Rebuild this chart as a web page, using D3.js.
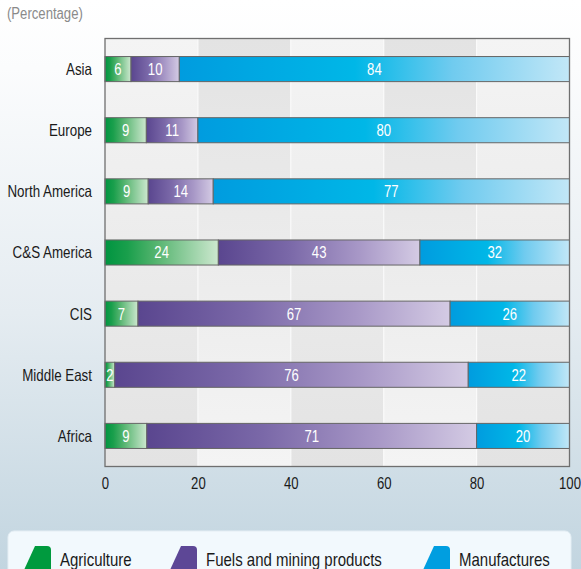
<!DOCTYPE html>
<html><head><meta charset="utf-8">
<script src="https://cdn.jsdelivr.net/npm/d3@7"></script>
<style>
html,body{margin:0;padding:0;}
svg{display:block;}
text{font-family:"Liberation Sans",Arial,sans-serif;}
</style></head>
<body>
<script>
const regions = ["Asia","Europe","North America","C&S America","CIS","Middle East","Africa"];
const agriculture = [5.6,8.9,9.3,24.4,7.1,2.1,9.0];
const fuels = [10.4,11.1,14.0,43.4,67.2,76.1,71.0];
const manufactures = [84.0,80.0,76.7,32.2,25.7,21.8,20.0];
const seriesNames = ["Agriculture","Fuels and mining products","Manufactures"];
const xTicks = [0,20,40,60,80,100];
const unitLabel = "(Percentage)";

const W = 581, H = 569;
const M = {left:105, right:569.5, top:38.5, bottom:466.5};
const SX = 0.82; // narrow face emulation

const svg = d3.select("body").append("svg").attr("width",W).attr("height",H);
const defs = svg.append("defs");

const bg = defs.append("linearGradient").attr("id","bg").attr("x1",0).attr("y1",0).attr("x2",0).attr("y2",1);
[[0,"#ffffff"],[0.12,"#fbfcfd"],[0.55,"#e5ecf1"],[1,"#c2d5e0"]].forEach(s=>bg.append("stop").attr("offset",s[0]).attr("stop-color",s[1]));
svg.append("rect").attr("width",W).attr("height",H).attr("fill","url(#bg)");

const gA = defs.append("linearGradient").attr("id","colA").attr("x1",0).attr("y1",0).attr("x2",0).attr("y2",1);
[[0,"#f4f4f4"],[1,"#e3e3e3"]].forEach(s=>gA.append("stop").attr("offset",s[0]).attr("stop-color",s[1]));
const gB = defs.append("linearGradient").attr("id","colB").attr("x1",0).attr("y1",0).attr("x2",0).attr("y2",1);
[[0,"#e3e3e3"],[1,"#f4f4f4"]].forEach(s=>gB.append("stop").attr("offset",s[0]).attr("stop-color",s[1]));

const grads = [
  [[0,"#009440"],[0.2,"#1a9f4c"],[0.45,"#55b46f"],[1,"#cde8cf"]],
  [[0,"#5a468f"],[0.35,"#7a68a8"],[0.7,"#a898c7"],[1,"#d4cbe4"]],
  [[0,"#009cdf"],[0.45,"#00b7e7"],[0.7,"#70cbef"],[1,"#c2e7f7"]]
];
grads.forEach((g,i)=>{
  const lg = defs.append("linearGradient").attr("id","s"+i).attr("x1",0).attr("y1",0).attr("x2",1).attr("y2",0);
  g.forEach(s=>lg.append("stop").attr("offset",s[0]).attr("stop-color",s[1]));
});
const solid = ["#009a3e","#5d4796","#009ee0"];

const x = d3.scaleLinear().domain([0,100]).range([M.left,M.right]);
const y = d3.scaleBand().domain(regions).range([M.top,M.bottom]).paddingInner(0.59).paddingOuter(0.295);

const cols = d3.range(xTicks.length-1);
svg.selectAll("rect.col").data(cols).join("rect")
  .attr("x",i=>x(xTicks[i])).attr("y",M.top)
  .attr("width",i=>x(xTicks[i+1])-x(xTicks[i])).attr("height",M.bottom-M.top)
  .attr("fill",i=>i%2===0?"url(#colA)":"url(#colB)");
svg.selectAll("line.grid").data(xTicks.slice(1,-1)).join("line")
  .attr("x1",d=>x(d)).attr("x2",d=>x(d)).attr("y1",M.top).attr("y2",M.bottom)
  .attr("stroke","#fafafa").attr("stroke-width",1.2);

const rows = regions.map((r,i)=>({region:r, Agriculture:agriculture[i], "Fuels and mining products":fuels[i], Manufactures:manufactures[i]}));
const stack = d3.stack().keys(seriesNames)(rows);

const g = svg.append("g");
stack.forEach((layer,si)=>{
  const lg = g.append("g");
  lg.selectAll("rect").data(layer).join("rect")
    .attr("x",d=>x(d[0])).attr("y",d=>y(d.data.region))
    .attr("width",d=>x(d[1])-x(d[0])).attr("height",y.bandwidth())
    .attr("fill","url(#s"+si+")").attr("stroke","#666").attr("stroke-width",1);
  lg.selectAll("text").data(layer).join("text")
    .attr("transform",d=>`translate(${(x(d[0])+x(d[1]))/2},${y(d.data.region)+y.bandwidth()/2}) scale(${SX},1)`)
    .attr("dy","0.37em").attr("text-anchor","middle")
    .attr("fill","#fff").attr("font-size",16)
    .text(d=>Math.round(d[1]-d[0]));
});

svg.append("rect").attr("x",M.left).attr("y",M.top).attr("width",M.right-M.left).attr("height",M.bottom-M.top)
  .attr("fill","none").attr("stroke","#6f6f6f").attr("stroke-width",1.3);

svg.selectAll("text.ylab").data(regions).join("text")
  .attr("transform",d=>`translate(92,${y(d)+y.bandwidth()/2}) scale(${SX},1)`).attr("dy","0.36em")
  .attr("text-anchor","end").attr("font-size",16.3).attr("fill","#1a1a1a").text(d=>d);

const xAxis = d3.axisBottom(x).tickValues(xTicks).tickSize(0).tickPadding(0);
const ax = svg.append("g").attr("transform",`translate(0,${M.bottom})`).call(xAxis);
ax.select(".domain").remove();
ax.selectAll("text").attr("font-size",16).attr("fill","#1a1a1a")
  .attr("font-family",'"Liberation Sans",Arial,sans-serif')
  .attr("y",11).attr("transform",`scale(${SX},1)`);

svg.append("text").attr("transform",`translate(7,19) scale(${SX},1)`).attr("font-size",16).attr("fill","#8a8a8a").text(unitLabel);

svg.append("rect").attr("x",8).attr("y",531).attr("width",563).attr("height",60).attr("rx",6)
  .attr("fill","#f2f9fd").attr("stroke","#e4eef4");
const legX = [24,170,423];
const leg = svg.selectAll("g.leg").data(seriesNames).join("g").attr("transform",(d,i)=>`translate(${legX[i]},546)`);
leg.append("path").attr("d","M0,24 L11,0 L23,0 Q27,0 27,4 L27,24 Z").attr("fill",(d,i)=>solid[i]);
leg.append("text").attr("transform",`translate(36,19.5) scale(${SX},1)`).attr("font-size",18.3).attr("fill","#1a1a1a").text(d=>d);
</script>
</body></html>
